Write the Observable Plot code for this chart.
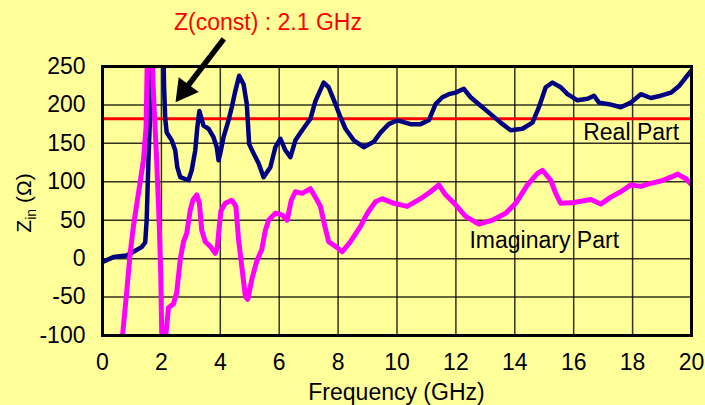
<!DOCTYPE html>
<html>
<head>
<meta charset="utf-8">
<script src="https://cdn.jsdelivr.net/npm/d3@7"></script>
<script src="https://cdn.jsdelivr.net/npm/@observablehq/plot@0.6"></script>
<style>
  html, body { margin: 0; padding: 0; background: #FFFF99; }
  #chart { width: 705px; height: 405px; }
</style>
</head>
<body>
<div id="chart"></div>
<script>
// ---- Data ----
const realFreq = [0.02,0.37,0.82,1.05,1.33,1.45,1.5,1.56,1.62,1.67,1.75,1.88,2.0,2.06,2.09,2.13,2.18,2.35,2.47,2.54,2.64,2.92,3.03,3.15,3.22,3.29,3.43,3.6,3.77,3.88,3.94,4.0,4.11,4.28,4.39,4.51,4.64,4.79,4.9,4.98,5.13,5.3,5.47,5.7,5.87,6.04,6.21,6.38,6.55,6.78,7.06,7.23,7.51,7.68,7.91,8.08,8.25,8.53,8.87,9.21,9.44,9.72,10.01,10.46,10.8,11.08,11.31,11.54,11.76,11.99,12.27,12.5,12.78,13.12,13.52,13.86,14.26,14.6,14.82,15.05,15.28,15.56,15.79,16.13,16.47,16.69,16.86,17.2,17.6,17.94,18.28,18.62,18.96,19.3,19.59,19.81,19.98];
const realPart = [-4,2,4,9,15,21,50,128,192,250,340,420,340,290,225,182,164,154,141,119,106,102,115,141,171,192,173,169,158,145,128,137,158,180,197,218,238,227,201,149,137,124,106,119,145,156,141,132,154,167,182,205,229,223,201,184,169,154,145,152,164,175,180,175,175,180,201,210,214,216,221,210,201,190,177,167,169,177,197,223,229,223,214,206,208,212,203,201,197,203,214,209,212,216,225,236,244];

const imagFreq = [0.6,0.69,0.82,0.94,1.05,1.22,1.39,1.48,1.52,1.58,1.65,1.7,1.73,1.84,1.93,1.98,2.01,2.05,2.12,2.16,2.24,2.41,2.52,2.64,2.75,2.86,2.98,3.07,3.2,3.29,3.37,3.49,3.66,3.83,3.9,3.96,4.02,4.17,4.39,4.53,4.62,4.73,4.85,4.93,5.07,5.24,5.41,5.53,5.64,5.87,6.1,6.27,6.41,6.55,6.78,7.06,7.23,7.4,7.55,7.68,7.91,8.14,8.42,8.76,8.99,9.27,9.5,9.89,10.35,10.8,11.14,11.42,11.65,11.99,12.33,12.78,13.24,13.69,14.03,14.43,14.77,14.94,15.22,15.39,15.56,16.01,16.58,16.92,17.26,17.6,17.94,18.28,18.51,18.96,19.3,19.53,19.81,19.98];
const imagPart = [-132,-96,-44,7,42,85,128,171,260,330,320,250,214,128,42,-23,-96,-150,-150,-96,-64,-59,-44,-1,22,33,63,76,83,72,37,22,16,7,15,40,62,72,76,68,25,-10,-49,-53,-27,-3,12,37,50,59,57,50,76,87,85,91,80,68,42,22,16,9,22,42,59,74,78,72,68,78,87,96,83,70,55,45,50,59,72,96,111,115,102,85,72,73,77,71,80,87,96,94,97,101,106,110,104,97];

const zConst = 182;                       // red reference line (Ω)
const xTicks = [0,2,4,6,8,10,12,14,16,18,20];
const yTicks = [-100,-50,0,50,100,150,200,250];

// annotations (data coordinates)
const labelTexts = ["Z(const) : 2.1 GHz", "Real Part", "Imaginary Part"];
const labelFreq  = [5.62, 17.95, 15.0];
const labelValue = [297, 154, 13.5];
const labelColor = ["#FF0000", "#000000", "#000000"];
const arrowFreq  = [4.12, 2.90, 2.48];   // tail, neck, tip
const arrowValue = [286, 225, 203.5];

// ---- Build tables ----
const realData = realFreq.map((f, i) => ({f, v: realPart[i]}));
const imagData = imagFreq.map((f, i) => ({f, v: imagPart[i]}));
const labels = labelTexts.map((t, i) => ({t, f: labelFreq[i], v: labelValue[i], c: labelColor[i]}));
const shaft = [{x1: arrowFreq[0], y1: arrowValue[0], x2: arrowFreq[1], y2: arrowValue[1]}];
const head = [{f: arrowFreq[2], v: arrowValue[2]}];

const headSymbol = {
  draw(ctx) {
    ctx.moveTo(0, 0);
    ctx.lineTo(12.5, 22);
    ctx.lineTo(-12.5, 22);
    ctx.closePath();
  }
};

const svg = Plot.plot({
  width: 705,
  height: 405,
  marginLeft: 102,
  marginRight: 14,
  marginTop: 66,
  marginBottom: 70,
  style: {
    background: "#FFFF99",
    fontFamily: "'Liberation Sans', Arial, sans-serif",
    fontSize: "23px",
    color: "black"
  },
  x: {domain: [0, 20], ticks: xTicks, tickSize: 0, tickPadding: 18, label: null, tickFormat: d => String(d)},
  y: {domain: [-100, 250], ticks: yTicks, tickSize: 0, tickPadding: 17, label: null, tickFormat: d => String(d)},
  marks: [
    Plot.ruleX(xTicks, {stroke: "#000", strokeWidth: 1.5, strokeOpacity: 0.8}),
    Plot.ruleY(yTicks, {stroke: "#000", strokeWidth: 1.5, strokeOpacity: 0.8}),
    Plot.ruleY([zConst], {stroke: "#FF0000", strokeWidth: 3}),
    Plot.line(realData, {x: "f", y: "v", stroke: "#000080", strokeWidth: 4.5, clip: true, curve: "linear"}),
    Plot.line(imagData, {x: "f", y: "v", stroke: "#FF00FF", strokeWidth: 5, clip: true, curve: "linear"}),
    Plot.frame({stroke: "#000", strokeWidth: 3}),
    Plot.text(labels, {x: "f", y: "v", text: "t", fill: "c", textAnchor: "middle", lineAnchor: "bottom", fontSize: 23}),
    Plot.link(shaft, {x1: "x1", y1: "y1", x2: "x2", y2: "y2", stroke: "#000", strokeWidth: 5.5}),
    Plot.dot(head, {x: "f", y: "v", symbol: headSymbol, fill: "#000", stroke: "none", rotate: 216.8})
  ]
});

// x-axis title and y-axis title with subscript
const sel = d3.select(svg);
sel.append("text")
  .attr("x", (102 + 691) / 2)
  .attr("y", 400)
  .attr("text-anchor", "middle")
  .attr("font-size", 23)
  .attr("fill", "#000")
  .text("Frequency (GHz)");

const yl = sel.append("text")
  .attr("transform", "translate(31,203) rotate(-90)")
  .attr("text-anchor", "middle")
  .attr("font-size", 21)
  .attr("fill", "#000");
yl.append("tspan").text("Z");
yl.append("tspan").attr("font-size", 14).attr("dy", 5).text("in");
yl.append("tspan").attr("dy", -5).text(" (Ω)");

document.getElementById("chart").appendChild(svg);
</script>
</body>
</html>
